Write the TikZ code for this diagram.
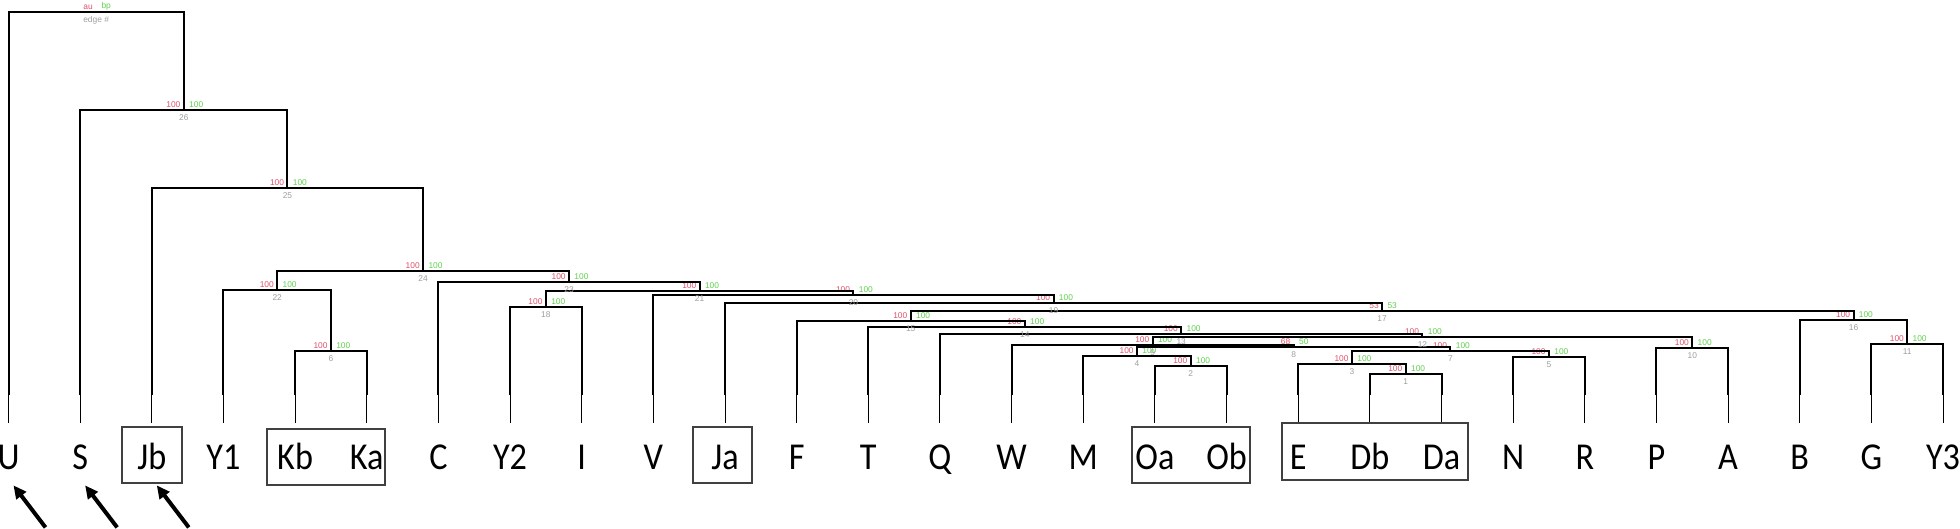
\documentclass[tikz,border=0pt]{standalone}
\usepackage{fontspec}
\setmainfont{Carlito}
\newfontfamily\leaffont[FakeStretch=0.9]{Carlito}
\newfontfamily\pvfont{Liberation Sans}
\usetikzlibrary{calc,arrows.meta}
\definecolor{aured}{HTML}{DF536B}
\definecolor{bpgreen}{HTML}{61D04F}
\definecolor{edgegray}{HTML}{9E9E9E}
\definecolor{boxgray}{HTML}{404040}

\begin{document}
\begin{tikzpicture}[x=0.5pt,y=-0.5pt,
    tree/.style={line width=1pt},
    stub/.style={line width=0.5pt},
    leaf/.style={font=\leaffont\fontsize{19}{19}\selectfont,text height=12pt,text depth=0pt,
      inner xsep=0pt,inner ysep=11pt,anchor=base},
    au/.style={text=aured,font=\pvfont\fontsize{4.2}{5}\selectfont,inner sep=0pt,
      anchor=south east,xshift=-1.5pt,yshift=0.8pt},
    bp/.style={text=bpgreen,font=\pvfont\fontsize{4.2}{5}\selectfont,inner sep=0pt,
      anchor=south west,xshift=2.5pt,yshift=0.8pt},
    edgeno/.style={text=edgegray,font=\pvfont\fontsize{4.2}{5}\selectfont,inner sep=0pt,
      anchor=north,yshift=-2pt},
    groupbox/.style={draw=boxgray,line width=1pt},
    pointer/.style={line width=2pt,-{Triangle[length=6.5pt,width=6pt]}}]
  \useasboundingbox (0,0) rectangle (1960,529);

  % leaves
  \foreach \leaf [count=\i from 0] in {U,S,Jb,Y1,Kb,Ka,C,Y2,I,V,Ja,F,T,Q,W,M,Oa,Ob,E,Db,Da,N,R,P,A,B,G,Y3} {
    \coordinate (\leaf) at ({8.5+71.65*\i},395);
    \node[leaf] (l\leaf) at ({8.5+71.65*\i},469) {\leaf};
    \draw[stub] (\leaf) -- (l\leaf.north);
  }

  % clades: edge / left / right / height / au / bp
  \foreach \num/\ca/\cb/\hgt/\vau/\vbp in {1/Db/Da/374/100/100, 2/Oa/Ob/366/100/100,
      3/E/n1/364/100/100, 4/M/n2/356/100/100, 5/N/R/357/100/100, 6/Kb/Ka/351/100/100,
      7/n3/n5/351/100/100, 8/n4/n7/347/68/50, 9/W/n8/345/100/100, 10/P/A/348/100/100,
      11/G/Y3/344/100/100, 12/n9/n10/337/100/100, 13/Q/n12/334/100/100,
      14/T/n13/327/100/100, 15/F/n14/321/100/100, 16/B/n11/320/100/100,
      17/n15/n16/311/53/53, 18/Y2/I/307/100/100, 19/Ja/n17/303/100/100,
      20/V/n19/295/100/100, 21/n18/n20/291/100/100, 22/Y1/n6/290/100/100,
      23/C/n21/282/100/100, 24/n22/n23/271/100/100, 25/Jb/n24/188/100/100,
      26/S/n25/110/100/100} {
    \path ($(\ca)!0.5!(\cb)$) coordinate (m\num);
    \coordinate (n\num) at (m\num |- 0,\hgt);
    \draw[tree] (\ca) |- (n\num) -| (\cb);
    \node[au] at (n\num) {\vau};
    \node[bp] at (n\num) {\vbp};
    \node[edgeno] at (n\num) {\num};
  }

  % root
  \path ($(U)!0.5!(n26)$) coordinate (m27);
  \coordinate (n27) at (m27 |- 0,12);
  \draw[tree] (U) |- (n27) -| (n26);
  \node[au] at (n27) {au};
  \node[bp] at (n27) {bp};
  \node[edgeno] at (n27) {edge \#};

  % boxes
  \draw[groupbox] ($(lJb.base)+(-30,-42)$) rectangle ($(lJb.base)+(30,14)$);
  \draw[groupbox] ($(lKb.base)+(-28,-40)$) rectangle ($(lKa.base)+(18,16)$);
  \draw[groupbox] ($(lJa.base)+(-32,-42)$) rectangle ($(lJa.base)+(27,14)$);
  \draw[groupbox] ($(lOa.base)+(-23,-42)$) rectangle ($(lOb.base)+(23,14)$);
  \draw[groupbox] ($(lE.base)+(-16,-46)$) rectangle ($(lDa.base)+(26,11)$);

  % arrows
  \foreach \leaf in {U,S,Jb} {
    \coordinate (t\leaf) at ([xshift=18.5pt,yshift=-18pt]l\leaf.south);
    \draw[pointer] (t\leaf) -- ([xshift=2.5pt,yshift=3pt]l\leaf.south);
  }
\end{tikzpicture}
\end{document}
